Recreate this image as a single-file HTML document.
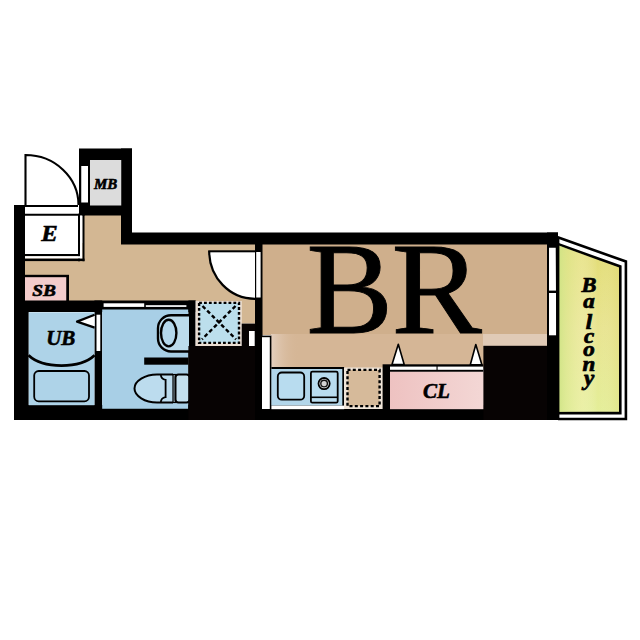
<!DOCTYPE html>
<html><head><meta charset="utf-8">
<style>
html,body{margin:0;padding:0;background:#fff;width:640px;height:640px;overflow:hidden}
svg{display:block}
.lbl{font-family:"Liberation Serif",serif;font-weight:bold;font-style:italic;fill:#000;stroke:#000;stroke-width:0.6}
.br{font-family:"Liberation Serif",serif;fill:#000}
</style></head><body>
<svg width="640" height="640" viewBox="0 0 640 640">
<defs>
<linearGradient id="balc" x1="0" y1="0" x2="0" y2="1">
<stop offset="0" stop-color="#e2dc74"/>
<stop offset="0.5" stop-color="#e8e490"/>
<stop offset="1" stop-color="#e4ee98"/>
</linearGradient>
<linearGradient id="balc2" x1="0" y1="0" x2="1" y2="0">
<stop offset="0" stop-color="#cfe486" stop-opacity="0.9"/>
<stop offset="0.15" stop-color="#dcea98" stop-opacity="0.5"/>
<stop offset="0.38" stop-color="#f6f4c0" stop-opacity="0.35"/>
<stop offset="0.65" stop-color="#ffffff" stop-opacity="0"/>
<stop offset="1" stop-color="#d8cc60" stop-opacity="0.2"/>
</linearGradient>
<linearGradient id="kit" x1="0" y1="0" x2="1" y2="0">
<stop offset="0" stop-color="#e4cfbe" stop-opacity="1"/>
<stop offset="1" stop-color="#d5b696" stop-opacity="0"/>
</linearGradient>
<linearGradient id="clg" x1="0" y1="0" x2="1" y2="0">
<stop offset="0" stop-color="#eec2c1"/>
<stop offset="1" stop-color="#f3d7d5"/>
</linearGradient>
</defs>
<rect width="640" height="640" fill="#fff"/>

<!-- ===== floors ===== -->
<!-- hallway beige -->
<rect x="25" y="243" width="231" height="58" fill="#d3b793"/>
<rect x="84" y="215" width="38" height="30" fill="#d3b793"/>
<!-- BR -->
<rect x="262" y="244" width="285" height="91" fill="#cfaf8c"/>
<!-- kitchen corridor -->
<rect x="271" y="334" width="276" height="34" fill="#d5b696"/>
<rect x="271" y="334" width="28" height="34" fill="url(#kit)"/>
<rect x="483" y="334" width="64" height="12" fill="#e0cab6"/>

<!-- ===== walls ===== -->
<!-- left wall -->
<rect x="14" y="205" width="11" height="215" fill="#000"/>
<!-- bottom wall -->
<rect x="14" y="405" width="544" height="15" fill="#000"/>
<!-- MB block -->
<rect x="79" y="148.5" width="53" height="67" fill="#000"/>
<rect x="121" y="148.5" width="11" height="95" fill="#000"/>
<rect x="90" y="160" width="31.25" height="45.5" fill="#dcdcdc"/>
<rect x="81.25" y="166" width="6.75" height="36.5" fill="#fff"/>
<!-- top wall -->
<rect x="121" y="232.5" width="437" height="12" fill="#000"/>
<!-- E box (entrance) -->
<rect x="25" y="215.5" width="53" height="38.5" fill="#fff"/>
<rect x="25" y="205" width="53" height="2" fill="#000"/>
<rect x="25" y="207" width="53" height="6.75" fill="#fff"/>
<rect x="25" y="213.75" width="59.5" height="2" fill="#000"/>
<rect x="78" y="213.75" width="2" height="47.5" fill="#000"/>
<rect x="80" y="215.5" width="2.5" height="43.25" fill="#fff"/>
<rect x="82.5" y="213.75" width="2" height="47.5" fill="#000"/>
<rect x="25" y="254" width="55" height="2.2" fill="#000"/>
<rect x="25" y="256.2" width="55" height="2.4" fill="#fff"/>
<rect x="25" y="258.6" width="59.5" height="2.5" fill="#000"/>
<!-- entrance door leaf -->
<path d="M25.5,205 L25.5,155 A53,50 0 0 1 78.5,205" fill="#fff" stroke="#000" stroke-width="2.1"/>

<!-- SB -->
<rect x="25" y="274.8" width="44" height="26.5" fill="#000"/>
<rect x="25" y="277.2" width="41.25" height="24" fill="#f3cccb"/>

<!-- wall between hall and UB/toilet -->
<rect x="25" y="300.5" width="170.5" height="11.5" fill="#000"/>
<!-- UB -->
<rect x="94.4" y="300.5" width="7.8" height="119.5" fill="#000"/>
<rect x="14" y="312" width="14.75" height="108" fill="#000"/>
<rect x="28.75" y="312.3" width="65.65" height="92.9" fill="#aed3e8"/>
<rect x="96.5" y="314.7" width="3.8" height="36.3" fill="#fff"/>
<!-- UB door arc -->
<path d="M28.5,355.2 A38,20.5 0 0 0 94.6,355.2" fill="none" stroke="#000" stroke-width="2.8"/>
<!-- triangle -->
<path d="M94.6,314.8 L77,321.6 L94.6,327.6" fill="#fff" stroke="#000" stroke-width="2.2" stroke-linejoin="round"/>
<!-- bathtub -->
<rect x="34.2" y="371" width="54.8" height="30.3" rx="4.5" fill="#aed3e8" stroke="#000" stroke-width="1.8"/>

<!-- Toilet room -->
<rect x="102.2" y="309.5" width="86.2" height="99.25" fill="#a8cfe6"/>
<rect x="103.6" y="303.3" width="40.6" height="3.6" fill="#fff"/>
<rect x="145.8" y="305.2" width="40.6" height="1.7" fill="#fff"/>
<rect x="188.4" y="300.5" width="7.2" height="119.5" fill="#000"/>
<!-- basin -->
<path d="M189,315.2 L171,315.2 A13,13 0 0 0 158,328.2 L158,338.5 A13,13 0 0 0 171,351.5 L189,351.5" fill="#bcdcec" stroke="#000" stroke-width="2.4"/>
<ellipse cx="168.7" cy="333.1" rx="7.7" ry="13.3" fill="#b4d8ec" stroke="#000" stroke-width="2.4"/>
<rect x="144.2" y="357.5" width="44.2" height="7.2" fill="#000"/>
<!-- toilet -->
<path d="M173,374.5 L157,374.5 C145,374.5 134.5,381 134.5,388.5 C134.5,396 145,402.5 157,402.5 L173,402.5" fill="#bcdcee" stroke="#000" stroke-width="2"/>
<path d="M160.8,374.5 Q161,379.2 165.6,379.8 L165.6,397.2 Q161,397.8 160.8,402.5" fill="none" stroke="#000" stroke-width="1.8"/>
<rect x="173" y="374.5" width="2.5" height="28" fill="#9fb5c0" stroke="#000" stroke-width="1.2"/>
<rect x="175.5" y="374.5" width="14" height="28" rx="3" fill="#c4e0ee" stroke="#000" stroke-width="2"/>

<!-- Washer -->
<rect x="195.6" y="301" width="46.1" height="45" fill="#e9ddd2"/>
<rect x="199.1" y="302.9" width="39.9" height="40" fill="#bcdfec" stroke="#000" stroke-width="2.4" stroke-dasharray="2.8,2.1"/>
<path d="M202.5,306 L236,339.3 M235.5,306 L202,339.3" stroke="#000" stroke-width="2.4" stroke-dasharray="4,2.6"/>
<rect x="241.7" y="301" width="13.3" height="22.6" fill="#d3b793"/>
<rect x="188.4" y="346" width="73.6" height="74" fill="#070303"/>
<rect x="241.7" y="323.6" width="13.3" height="22.4" fill="#070303"/>
<rect x="249" y="331" width="5.7" height="15" fill="#fff"/>

<!-- wall hall/BR -->
<rect x="255" y="243" width="7.5" height="177" fill="#000"/>
<rect x="256.2" y="252" width="4.4" height="45.5" fill="#fff"/>
<!-- BR door -->
<path d="M255,252 L208.5,252 A46.5,46.5 0 0 0 255,298.5 Z" fill="#fff"/>
<path d="M209.2,251.3 A45.8,47.5 0 0 0 255,298.8" fill="none" stroke="#000" stroke-width="2.2"/>
<rect x="208.2" y="250.3" width="47" height="2" fill="#000"/>

<!-- kitchen left wall -->
<rect x="262" y="335.6" width="9.4" height="84.4" fill="#000"/>
<rect x="262" y="337.2" width="7.8" height="71.8" fill="#fff"/>
<!-- counter -->
<rect x="271.4" y="367" width="72.8" height="38.6" fill="#000"/>
<rect x="271.4" y="369" width="70.9" height="36.6" fill="#b2d6ea"/>
<rect x="271.4" y="405.6" width="72.8" height="3.6" fill="#fff"/>
<rect x="277.8" y="372.5" width="26.4" height="27.2" rx="4" fill="#b8dcef" stroke="#000" stroke-width="1.8"/>
<rect x="310.9" y="371.7" width="26.8" height="31" rx="1.5" fill="#b8dcef" stroke="#000" stroke-width="1.8"/>
<line x1="310.9" y1="397.3" x2="337.7" y2="397.3" stroke="#000" stroke-width="1.6"/>
<circle cx="324.1" cy="383.6" r="5.6" fill="#f4f8fa" stroke="#000" stroke-width="1.8"/>
<circle cx="324.1" cy="383.6" r="3.3" fill="#d4d4d4" stroke="#111" stroke-width="1.4"/>
<!-- fridge space -->
<rect x="344" y="367.5" width="39" height="41.5" fill="#efe4d8"/>
<rect x="347.5" y="369.9" width="32.1" height="36.2" fill="#d6ba9a" stroke="#000" stroke-width="2.4" stroke-dasharray="3,2.3"/>

<!-- CL -->
<rect x="382.6" y="364.3" width="7.4" height="55.7" fill="#000"/>
<rect x="390" y="364.3" width="93.4" height="7.6" fill="#000"/>
<rect x="390" y="366.6" width="46.5" height="3.2" fill="#fff"/>
<rect x="437.6" y="366.6" width="45.8" height="3.2" fill="#fff"/>
<rect x="390" y="371.8" width="93.9" height="37.4" fill="url(#clg)"/>
<path d="M392,364.5 L398.3,344.2 L404.2,364.5 Z" fill="#fff" stroke="#000" stroke-width="1.6" stroke-linejoin="round"/>
<path d="M470.3,364.8 L475.8,344.5 L481.9,364.8 Z" fill="#fff" stroke="#000" stroke-width="1.6" stroke-linejoin="round"/>
<rect x="483.4" y="345.8" width="74.6" height="74.2" fill="#070303"/>

<!-- right wall -->
<rect x="547" y="232.5" width="11" height="187.5" fill="#000"/>
<rect x="549" y="247.75" width="7.25" height="42.85" fill="#fff"/>
<rect x="549" y="293" width="7.25" height="42.3" fill="#fff"/>

<!-- Balcony -->
<path d="M557,237.1 L625.9,261.5 L625.9,419 L558,419" fill="#fff" stroke="#000" stroke-width="2.6"/>
<path d="M557,243.8 L620.3,266.5 L620.3,413.1 L558,413.1 Z" fill="url(#balc)" stroke="#000" stroke-width="2.6"/>
<path d="M559,245.5 L619,267.5 L619,411.8 L559,411.8 Z" fill="url(#balc2)"/>
<rect x="557" y="237" width="2.4" height="183" fill="#000"/>

<!-- ===== labels ===== -->
<text class="br" transform="translate(306.4,332.6) scale(0.99,1)" font-size="131" stroke="#000" stroke-width="0.9">B</text>
<text class="br" transform="translate(391.6,332.6) scale(1.035,1)" font-size="131" stroke="#000" stroke-width="0.9">R</text>
<text class="lbl" x="94" y="188.7" font-size="15">MB</text>
<text class="lbl" transform="translate(41.3,241.3) scale(1.05,1)" font-size="23.5">E</text>
<text class="lbl" transform="translate(32.2,295.7) scale(1.1,1)" font-size="17.6">SB</text>
<text class="lbl" transform="translate(46.2,345.2) scale(1.0,1)" font-size="21">UB</text>
<text class="lbl" x="423" y="397.7" font-size="21">CL</text>
<g class="lbl" font-size="20" text-anchor="middle" style="stroke-width:0.7">
<text transform="translate(589,292) scale(1.12,1)">B</text>
<text transform="translate(589,308.3) scale(1.15,1)">a</text>
<text transform="translate(589,328.8) scale(1.15,1)">l</text>
<text transform="translate(589,342.5) scale(1.15,1)">c</text>
<text transform="translate(589,356.2) scale(1.15,1)">o</text>
<text transform="translate(589,370.8) scale(1.15,1)">n</text>
<text transform="translate(589,385) scale(1.15,1.1)">y</text>
</g>
</svg>
</body></html>
